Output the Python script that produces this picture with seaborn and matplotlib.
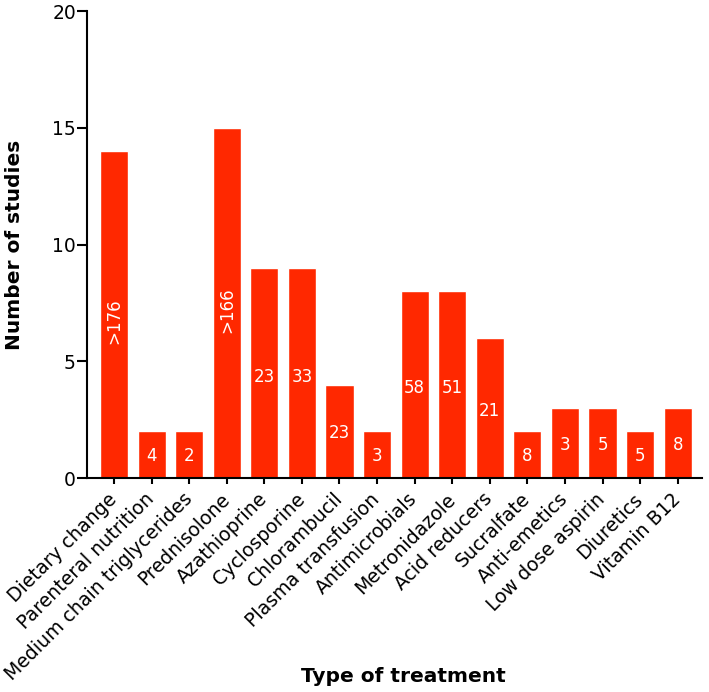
import matplotlib
matplotlib.use("Agg")
import matplotlib.pyplot as plt
import seaborn as sns

# Data
treatments = ['Dietary change', 'Parenteral nutrition', 'Medium chain triglycerides',
              'Prednisolone', 'Azathioprine', 'Cyclosporine', 'Chlorambucil',
              'Plasma transfusion', 'Antimicrobials', 'Metronidazole', 'Acid reducers',
              'Sucralfate', 'Anti-emetics', 'Low dose aspirin', 'Diuretics', 'Vitamin B12']
studies = [14, 2, 2, 15, 9, 9, 4, 2, 8, 8, 6, 2, 3, 3, 2, 3]
patients = ['>176', '4', '2', '>166', '23', '33', '23', '3', '58', '51', '21', '8', '3', '5', '5', '8']

sns.set_style('ticks')
plt.rcParams['font.family'] = ['DejaVu Sans']
plt.rcParams.update({'text.color': 'black', 'axes.labelcolor': 'black',
                     'xtick.color': 'black', 'ytick.color': 'black'})

fig = plt.figure(figsize=(7.09, 6.92), dpi=100)
ax = fig.add_axes([0.1227, 0.309, 0.867, 0.675])

sns.barplot(x=treatments, y=studies, color='#FF2800', saturation=1, width=0.75, ax=ax)

# patient numbers inside the bars
for i, (n, lab) in enumerate(zip(studies, patients)):
    rot = 90 if lab.startswith('>') else 0
    ax.text(i, n * 0.48, lab, color='white', fontsize=12, ha='center', va='center', rotation=rot)

ax.set_ylim(0, 20)
ax.set_yticks([0, 5, 10, 15, 20])
ax.set_xlim(-0.72, 15.64)

for side in ['top', 'right']:
    ax.spines[side].set_visible(False)
for side in ['left', 'bottom']:
    ax.spines[side].set_linewidth(1.5)
    ax.spines[side].set_color('black')

ax.tick_params(axis='y', length=7, width=1.5, labelsize=13.5, pad=1)
ax.tick_params(axis='x', length=4, width=1.5, labelsize=13.6, pad=9)
plt.setp(ax.get_xticklabels(), rotation=45, ha='right', va='center', rotation_mode='anchor')

ax.set_ylabel('Number of studies', fontsize=14.5, fontweight='bold')
ax.set_xlabel('Type of treatment', fontsize=14.5, fontweight='bold')
ax.yaxis.set_label_coords(-0.102, 0.5)
ax.xaxis.set_label_coords(0.514, -0.405)

fig.savefig('out.png', dpi=100)
